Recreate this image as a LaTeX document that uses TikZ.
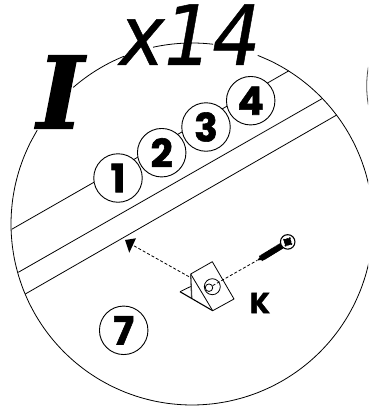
\documentclass[tikz,border=0pt]{standalone}
\usepackage{fontspec}
\setmainfont{Poppins}[BoldFeatures={FakeBold=1.5}]
\newfontfamily\countfont{DejaVu Sans}[ItalicFeatures={FakeBold=0.6}]
\newfontfamily\stepfont{DejaVu Serif}[BoldItalicFeatures={FakeBold=1.5}]
\usetikzlibrary{arrows.meta,calc}
\tikzset{
  thin line/.style={line width=0.8pt,black},
  badge/.style={circle,draw,fill=white,line width=0.9pt,minimum size=48.5pt,inner sep=0pt,font=\fontsize{39}{39}\selectfont\bfseries},
  dash line/.style={line width=0.8pt,dash pattern=on 3pt off 2pt},
}
\begin{document}
\begin{tikzpicture}[x=1pt,y=-1pt]
\useasboundingbox (0,0) rectangle (368,410);
\clip (0,0) rectangle (368,410);
% big circle, broken where the titles sit
\coordinate (C) at (192,224);
\foreach \a/\b in {229/248,257.6/276.7,291.3/571.2}{
  \draw[thin line] plot[smooth,domain=\a:\b,samples=60] ({192+181*cos(\x)},{224+181*sin(\x)});
}
% neighbouring circle at the right edge
\draw[thin line,black!70] plot[smooth,domain=-10:10,samples=12] ({366.7+110-110*cos(\x)},{86+110*sin(\x)});
% rails
\coordinate (a1) at (11.7,229.3); \coordinate (a2) at (289,70.7);
\coordinate (b1) at (18.3,272.3); \coordinate (b2) at (322.7,98.3);
\coordinate (c1) at (25.3,294);   \coordinate (c2) at (336.7,115);
\draw[thin line] (a1)--(a2);
\draw[thin line] (b1)--(b2);
\draw[thin line] (c1)--(c2);
% badges
\node[badge] (n1) at (118,178) {1};
\node[badge] (n2) at (161.7,152.7) {2};
\node[badge] (n3) at (206,127) {3};
\node[badge] (n4) at (250.7,100.7) {4};
\node[badge] (n7) at (123.7,330.3) {7};
% titles
\node[inner sep=0pt,anchor=center,xscale=0.91] (qty) at (190,34.5) {\countfont\itshape\fontsize{83}{83}\selectfont x14};
\node[inner sep=0pt,anchor=center] (step) at (60.5,92) {\stepfont\bfseries\itshape\fontsize{100}{100}\selectfont I};
\node[inner sep=0pt] (k) at (260,303) {\fontsize{29}{29}\selectfont\bfseries K};
% bracket
\coordinate (p1) at (190.7,274); \coordinate (p2) at (212.3,261.7);
\coordinate (p3) at (234,299);   \coordinate (p4) at (212.7,310.7);
\coordinate (p5) at (180,291.7); \coordinate (p6) at (191.7,286);
\coordinate (p7) at (191.7,298);
\draw[thin line,line join=round] (p1)--(p2)--(p3)--(p4)--cycle;
\draw[thin line] (p5)--(p6);
\draw[line width=1.3pt,black!75] (p1)--(p7);
\draw[line width=1.1pt] (p5)--(p4);
\node[circle,draw,line width=0.8pt,minimum size=16pt,inner sep=0pt] (hole) at (212.3,286.7) {};
\node[circle,draw,line width=0.8pt,minimum size=7.5pt,inner sep=0pt] (bore) at (209,287.7) {};
% arrow to the rail
\coordinate (tip) at (125,240);
\coordinate (tail) at (189,276.7);
\coordinate (neck) at (132.5,245);
\draw[dash line] (tail)--(neck);
\fill (tip)--(136,238.3)--(129.3,252.7)--cycle;
% screw
\coordinate (sTip) at (257,260.5);
\coordinate (sEnd) at (282,245.5);
\coordinate (hd) at (287.7,241.9);
\draw[dash line] (bore)--(sTip);
\fill (sTip)--(262,254.5)--(281,243.5)--(283,248.5)--(265,259.5)--cycle;
\draw[line width=6pt,dash pattern=on 1.3pt off 0.45pt] (260.5,258.6)--(sEnd);
\node[circle,draw,fill=white,line width=1.1pt,minimum size=14.5pt,inner sep=0pt] (head) at (hd) {};
\fill (hd) circle (3.8pt);
\draw[line width=1.7pt,rotate around={-30:(hd)}] ($(hd)+(-5,0)$)--($(hd)+(5,0)$) ($(hd)+(0,-5)$)--($(hd)+(0,5)$);
\end{tikzpicture}
\end{document}
